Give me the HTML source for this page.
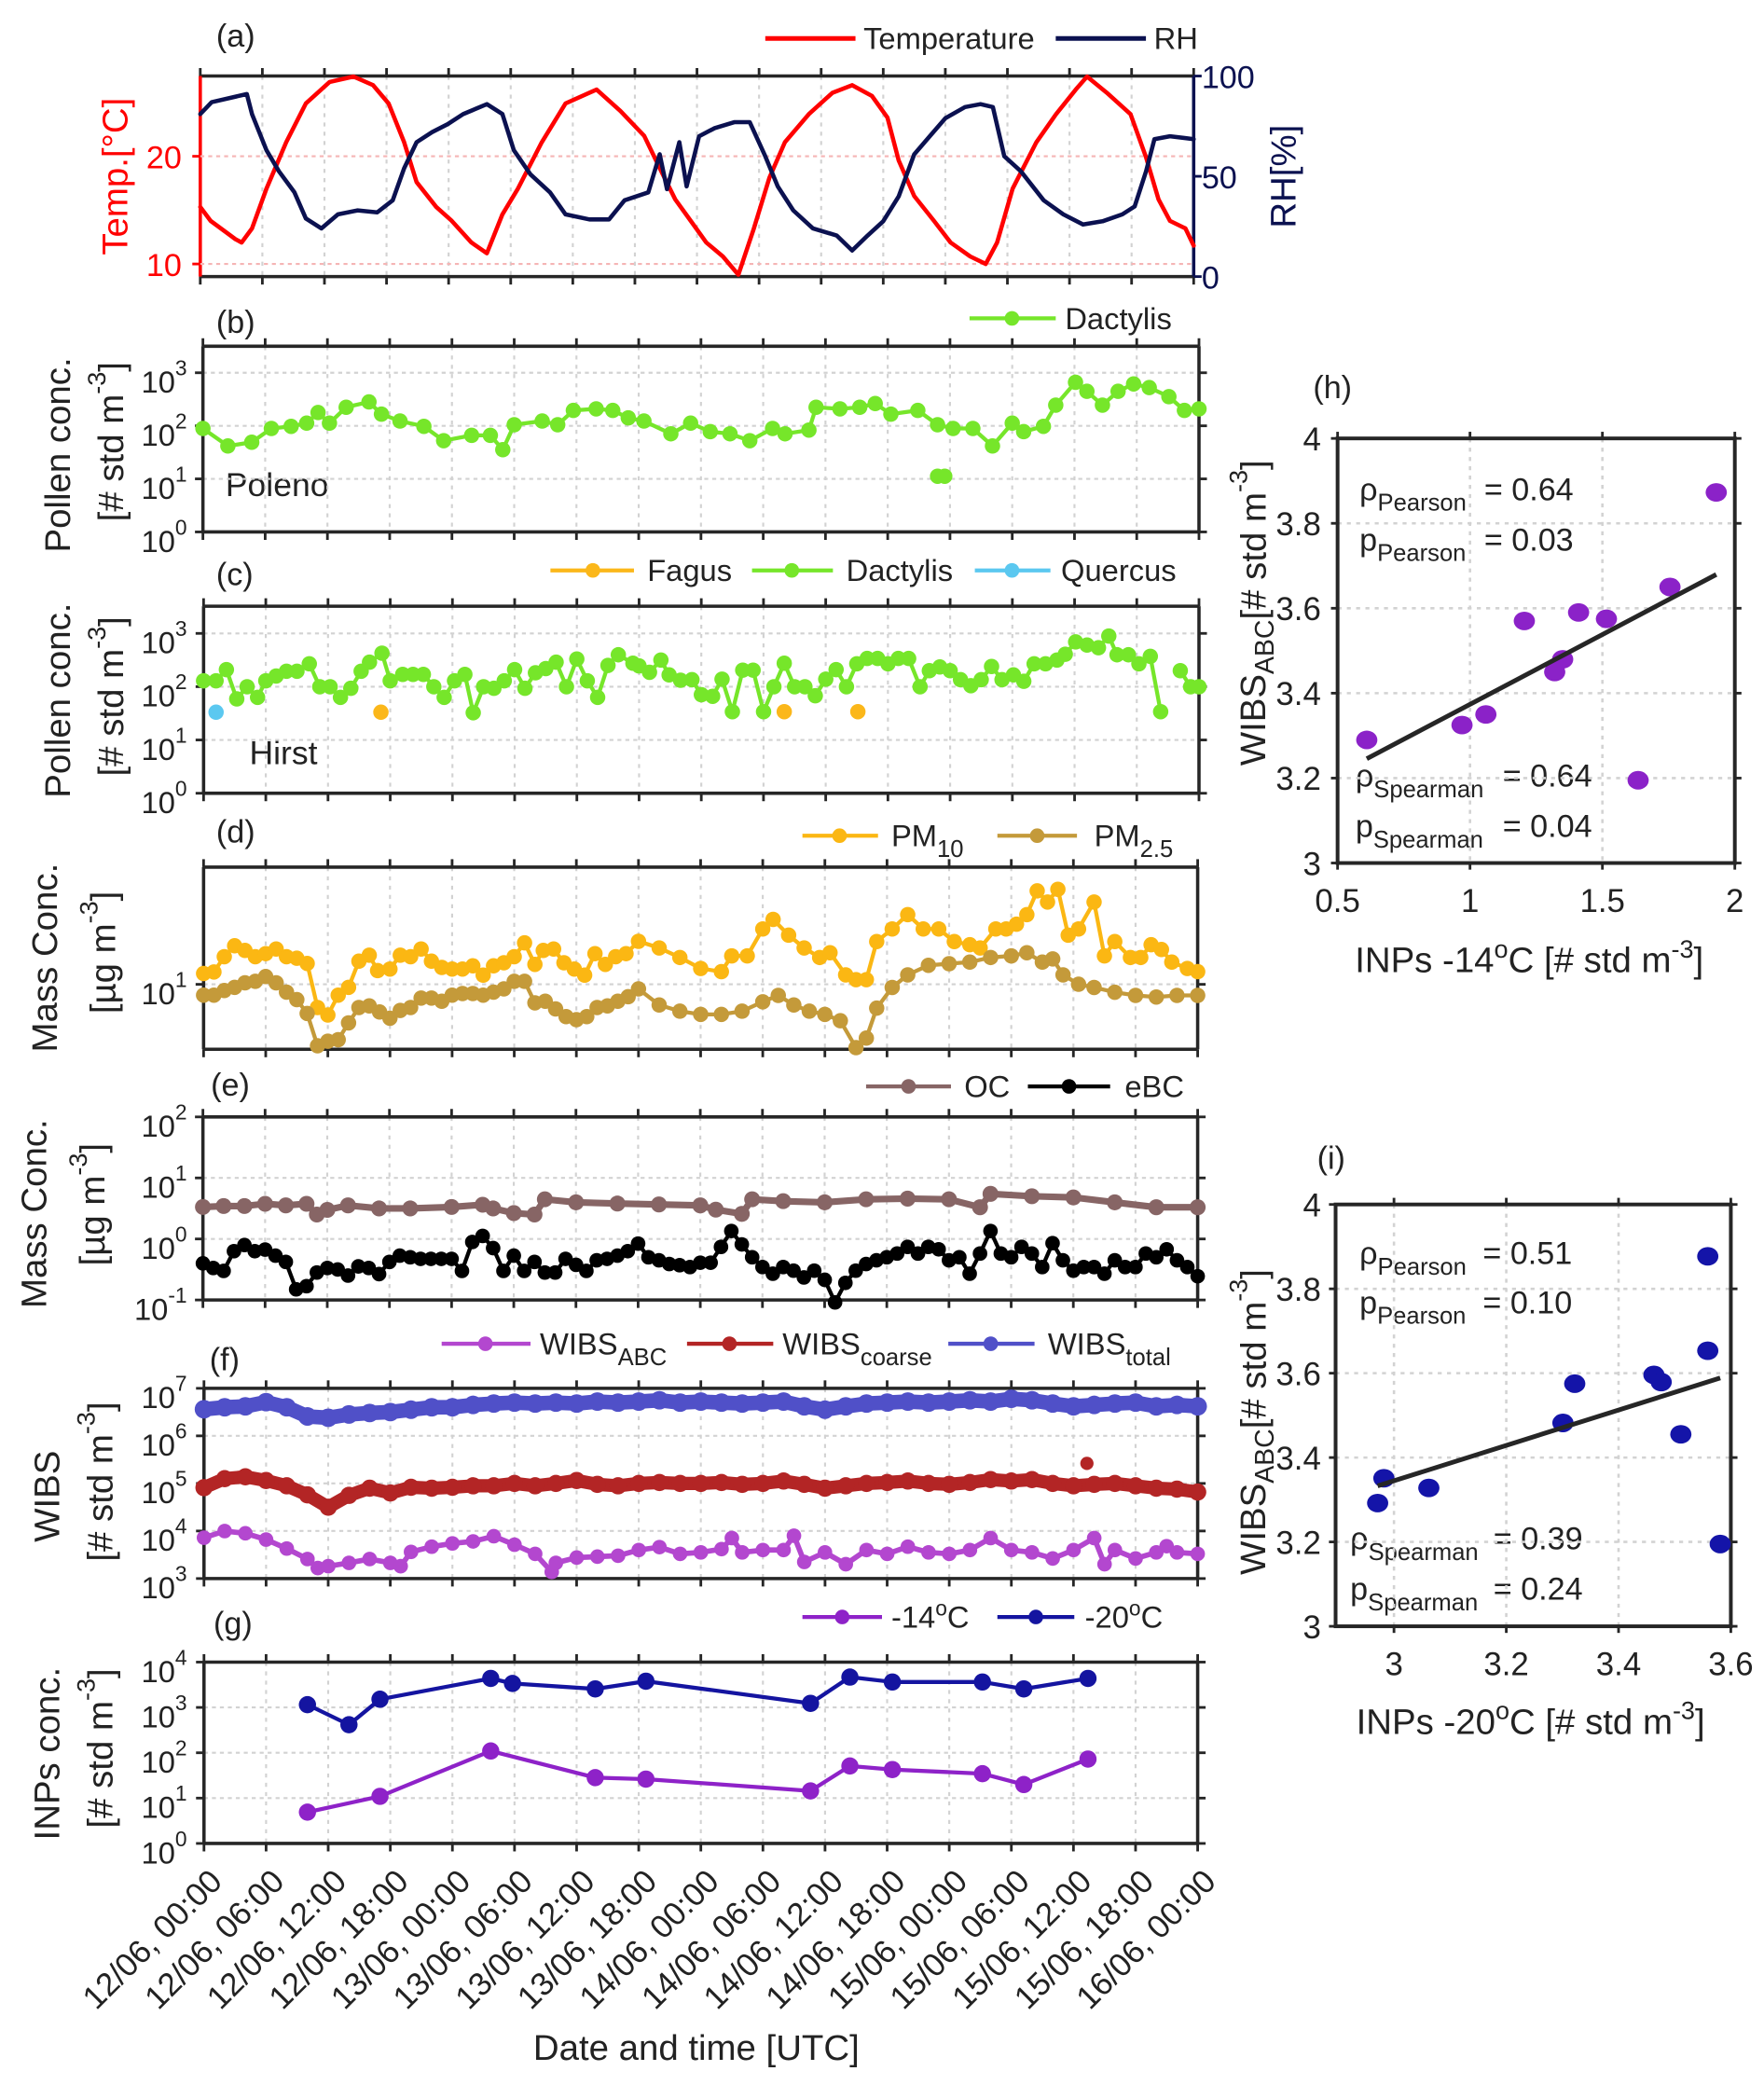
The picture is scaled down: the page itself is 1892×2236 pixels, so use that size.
<!DOCTYPE html>
<html><head><meta charset="utf-8"><title>Time series and scatter panels</title>
<style>html,body{margin:0;padding:0;background:#fff}svg{display:block}</style></head>
<body>
<svg id="chart" xmlns="http://www.w3.org/2000/svg" viewBox="0 0 1330 1571.8" width="1892" height="2236" font-family="'Liberation Sans', Arial, sans-serif" fill="#222">
<rect x="0" y="0" width="1330" height="1572" fill="#fff"/>
<g font-size="24">
<text x="163" y="35">(a)</text>
<text x="163" y="251">(b)</text>
<text x="163" y="441">(c)</text>
<text x="163" y="635">(d)</text>
<text x="159" y="826">(e)</text>
<text x="158" y="1033">(f)</text>
<text x="161" y="1232">(g)</text>
<text x="990" y="300">(h)</text>
<text x="993" y="881">(i)</text>
</g>
<g font-size="23">
<line x1="577" y1="29" x2="645" y2="29" stroke="#ff0000" stroke-width="3.5"/>
<text x="651" y="37">Temperature</text>
<line x1="796" y1="29" x2="864" y2="29" stroke="#0b1150" stroke-width="3.5"/>
<text x="870" y="37">RH</text>

<line x1="731" y1="240" x2="796" y2="240" stroke="#76e62a" stroke-width="3"/>
<circle cx="763" cy="240" r="5.5" fill="#76e62a"/>
<text x="803" y="248">Dactylis</text>

<line x1="415" y1="430" x2="478" y2="430" stroke="#fbb71a" stroke-width="3"/>
<circle cx="447" cy="430" r="5.5" fill="#fbb71a"/>
<text x="488" y="438">Fagus</text>
<line x1="567" y1="430" x2="628" y2="430" stroke="#76e62a" stroke-width="3"/>
<circle cx="597" cy="430" r="5.5" fill="#76e62a"/>
<text x="638" y="438">Dactylis</text>
<line x1="735" y1="430" x2="792" y2="430" stroke="#5bc8f0" stroke-width="3"/>
<circle cx="763" cy="430" r="5.5" fill="#5bc8f0"/>
<text x="800" y="438">Quercus</text>

<line x1="605" y1="630" x2="662" y2="630" stroke="#fbb713" stroke-width="3"/>
<circle cx="633" cy="630" r="5.5" fill="#fbb713"/>
<text x="672" y="638">PM<tspan dy="8" font-size="18">10</tspan></text>
<line x1="752" y1="630" x2="812" y2="630" stroke="#c49a3a" stroke-width="3"/>
<circle cx="782" cy="630" r="5.5" fill="#c49a3a"/>
<text x="825" y="638">PM<tspan dy="8" font-size="18">2.5</tspan></text>

<line x1="653" y1="819" x2="717" y2="819" stroke="#876565" stroke-width="3"/>
<circle cx="685" cy="819" r="5.5" fill="#876565"/>
<text x="727" y="827">OC</text>
<line x1="775" y1="819" x2="837" y2="819" stroke="#000" stroke-width="3"/>
<circle cx="806" cy="819" r="5.5" fill="#000"/>
<text x="848" y="827">eBC</text>

<line x1="333" y1="1013" x2="400" y2="1013" stroke="#b347cf" stroke-width="3"/>
<circle cx="366" cy="1013" r="5.5" fill="#b347cf"/>
<text x="407" y="1021">WIBS<tspan dy="8" font-size="18">ABC</tspan></text>
<line x1="518" y1="1013" x2="583" y2="1013" stroke="#b32525" stroke-width="3"/>
<circle cx="550" cy="1013" r="5.5" fill="#b32525"/>
<text x="590" y="1021">WIBS<tspan dy="8" font-size="18">coarse</tspan></text>
<line x1="715" y1="1013" x2="780" y2="1013" stroke="#5050c8" stroke-width="3"/>
<circle cx="747" cy="1013" r="5.5" fill="#5050c8"/>
<text x="790" y="1021">WIBS<tspan dy="8" font-size="18">total</tspan></text>

<line x1="605" y1="1219" x2="665" y2="1219" stroke="#8e22c8" stroke-width="3"/>
<circle cx="635" cy="1219" r="5.5" fill="#8e22c8"/>
<text x="672" y="1227">-14<tspan dy="-9" font-size="16">o</tspan><tspan dy="9">C</tspan></text>
<line x1="752" y1="1219" x2="810" y2="1219" stroke="#1414a0" stroke-width="3"/>
<circle cx="781" cy="1219" r="5.5" fill="#1414a0"/>
<text x="818" y="1227">-20<tspan dy="-9" font-size="16">o</tspan><tspan dy="9">C</tspan></text>
</g>

<g font-size="27" text-anchor="middle" dominant-baseline="central">
<text transform="translate(87,133) rotate(-90)" fill="#ff0000">Temp.[°C]</text>
<text transform="translate(968,133) rotate(-90)" fill="#0b1150">RH[%]</text>
<text transform="translate(44,343) rotate(-90)">Pollen conc.</text>
<text transform="translate(84,333) rotate(-90)">[# std m<tspan dy="-11" font-size="19">-3</tspan><tspan dy="11">]</tspan></text>
<text transform="translate(44,528) rotate(-90)">Pollen conc.</text>
<text transform="translate(84,525) rotate(-90)">[# std m<tspan dy="-11" font-size="19">-3</tspan><tspan dy="11">]</tspan></text>
<text transform="translate(34,722) rotate(-90)">Mass Conc.</text>
<text transform="translate(78,718) rotate(-90)">[µg m<tspan dy="-11" font-size="19">-3</tspan><tspan dy="11">]</tspan></text>
<text transform="translate(26,915) rotate(-90)">Mass Conc.</text>
<text transform="translate(70,908) rotate(-90)">[µg m<tspan dy="-11" font-size="19">-3</tspan><tspan dy="11">]</tspan></text>
<text transform="translate(36,1128) rotate(-90)">WIBS</text>
<text transform="translate(76,1117) rotate(-90)">[# std m<tspan dy="-11" font-size="19">-3</tspan><tspan dy="11">]</tspan></text>
<text transform="translate(36,1322) rotate(-90)">INPs conc.</text>
<text transform="translate(76,1318) rotate(-90)">[# std m<tspan dy="-11" font-size="19">-3</tspan><tspan dy="11">]</tspan></text>
<text transform="translate(945,462) rotate(-90)">WIBS<tspan dy="9" font-size="20">ABC</tspan><tspan dy="-9">[# std m</tspan><tspan dy="-11" font-size="19">-3</tspan><tspan dy="11">]</tspan></text>
<text transform="translate(945,1072) rotate(-90)">WIBS<tspan dy="9" font-size="20">ABC</tspan><tspan dy="-9">[# std m</tspan><tspan dy="-11" font-size="19">-3</tspan><tspan dy="11">]</tspan></text>
</g>
<g font-size="27" text-anchor="middle">
<text x="525" y="1553">Date and time [UTC]</text>
<text x="1153" y="733">INPs -14<tspan dy="-11" font-size="19">o</tspan><tspan dy="11">C [# std m</tspan><tspan dy="-11" font-size="19">-3</tspan><tspan dy="11">]</tspan></text>
<text x="1154" y="1307">INPs -20<tspan dy="-11" font-size="19">o</tspan><tspan dy="11">C [# std m</tspan><tspan dy="-11" font-size="19">-3</tspan><tspan dy="11">]</tspan></text>
</g>
<g font-size="24">
<text x="170" y="374" font-size="25">Poleno</text>
<text x="188" y="576" font-size="25">Hirst</text>
<text x="1025" y="377">ρ<tspan dy="8" font-size="18">Pearson</tspan></text>
<text x="1119" y="377">= 0.64</text>
<text x="1025" y="415">p<tspan dy="8" font-size="18">Pearson</tspan></text>
<text x="1119" y="415">= 0.03</text>
<text x="1022" y="593">ρ<tspan dy="8" font-size="18">Spearman</tspan></text>
<text x="1133" y="593">= 0.64</text>
<text x="1022" y="631">p<tspan dy="8" font-size="18">Spearman</tspan></text>
<text x="1133" y="631">= 0.04</text>
<text x="1025" y="953">ρ<tspan dy="8" font-size="18">Pearson</tspan></text>
<text x="1118" y="953">= 0.51</text>
<text x="1025" y="990">p<tspan dy="8" font-size="18">Pearson</tspan></text>
<text x="1118" y="990">= 0.10</text>
<text x="1018" y="1168">ρ<tspan dy="8" font-size="18">Spearman</tspan></text>
<text x="1126" y="1168">= 0.39</text>
<text x="1018" y="1206">p<tspan dy="8" font-size="18">Spearman</tspan></text>
<text x="1126" y="1206">= 0.24</text>
</g>
<g id="plots"></g>
</svg>
<script>
const timeTickHours = [0,6,12,18,24,30,36,42,48,54,60,66,72,78,84,90,96];
const timeTickLabels = ['12/06, 00:00','12/06, 06:00','12/06, 12:00','12/06, 18:00','13/06, 00:00','13/06, 06:00','13/06, 12:00','13/06, 18:00','14/06, 00:00','14/06, 06:00','14/06, 12:00','14/06, 18:00','15/06, 00:00','15/06, 06:00','15/06, 12:00','15/06, 18:00','16/06, 00:00'];

const tempHours = [0,1,3.4,4,5,6.4,8.3,10.2,12.5,14.8,16.7,18.2,19.7,20.9,22.8,24.3,26.2,27.7,29.2,30.7,33,35.3,38.3,40.6,42.9,44.4,45.9,47.4,48.9,50.5,52,53.5,55,56.5,58.8,61.1,63,64.9,66.4,67.5,69,70.9,72.5,74.4,75.9,77,78.5,80.8,82.7,84.6,85.7,87.6,89.9,91.4,92.6,93.7,95.2,96];
const tempValues = [15.3,14,12.3,12,13.3,17,21.3,24.9,26.9,27.4,26.6,24.9,21.3,17.6,15.3,14,12,11,14.6,17,21.3,24.9,26.2,24.2,21.9,18.9,16,14,12,10.7,9,13.3,18,21.3,23.9,25.9,26.6,25.6,23.6,19.6,16.3,14,12,10.7,10,12,17,21.3,23.9,26.2,27.4,25.9,23.9,19.9,16,14,13.3,11.7];
const rhHours = [0,1.1,4.5,5,6.4,7.6,9.1,10.2,11.7,13.3,15.2,17.1,18.6,19.7,20.9,22.4,23.9,25.4,27.7,29.2,30.3,31.9,33.8,35.3,37.6,39.5,41,43.3,44.4,45.1,46.3,47,48.2,49.7,51.6,53.1,54.6,55.8,57.3,59.2,61.5,63,64.5,66,67.5,69,70.5,72,73.9,75.4,76.6,77.7,79.3,81.5,83.4,85.3,87.2,89.1,90.3,91.4,92.2,93.7,96];
const rhValues = [81,87,91,81,63,52.5,42,29,24,31,33,32,38,54,67,72,76,81,86,81,63,51,42,31,28.5,28.5,38,42,61,43.6,67,45,70,74,77,77,60,45,33,24,20.5,13,20.5,27.6,40,61,70,79,84.5,86,84.5,60,52.5,38,31,26,27.6,31,35,52.5,68.5,70,68.5];

const polenoHours = [0,2.4,4.7,6.6,8.5,10,11.1,12.2,13.8,16,17.2,19,21.3,23.2,25.9,27.7,28.9,30,32.7,34.2,35.7,37.9,39.5,41,42.5,45.1,47,48.9,50.8,52.7,54.9,56.1,58.4,59.1,61.4,63.3,64.8,66.3,68.9,70.8,72.3,74.2,76.1,78,79.1,81,82.2,84.1,85.2,86.7,88.2,89.7,91.2,93.1,94.6,96];
const polenoDactylisLog = [1.95,1.62,1.69,1.95,1.99,2.05,2.25,2.05,2.35,2.45,2.22,2.09,1.99,1.72,1.82,1.82,1.55,2.02,2.09,2.02,2.29,2.32,2.29,2.15,2.09,1.85,2.05,1.89,1.85,1.72,1.95,1.85,1.92,2.35,2.32,2.35,2.42,2.22,2.29,2.02,1.95,1.95,1.62,2.05,1.89,1.99,2.39,2.82,2.65,2.39,2.65,2.79,2.72,2.55,2.29,2.32];
const polenoIsolatedHours = [70.8,71.5];
const polenoIsolatedLog = [1.05,1.05];

const hirstHours = [0,1.2,2.2,3.2,4.2,5.2,6,7,8,9,10.2,11.2,12.2,13.2,14.2,15.2,16,17.2,18,19.2,20.2,21.2,22.2,23.2,24.2,25.2,26,27,28,29,30,31,32,33,34,35,36,37,38,39,40,41.4,42,43,44.1,44.9,46,47.1,48,49.1,50,51,52,53,54,55,56,57,58,59,60,61,62,63,64,65,66,67,68,69.1,70,71,72,73,74,75,76,77,78.1,79.1,80.1,81.2,82.3,83.1,84.1,85.2,86.3,87.3,88.1,89.2,90.2,91.3,92.3,93.2,94.2,95.2,96];
const hirstDactylisLog = [2.11,2.11,2.32,1.77,2.0,1.8,2.11,2.2,2.29,2.29,2.43,2.0,2.0,1.8,1.97,2.29,2.46,2.63,2.11,2.23,2.23,2.23,2.0,1.8,2.11,2.23,1.51,2.0,1.97,2.11,2.32,1.97,2.26,2.34,2.46,2.0,2.52,2.11,1.8,2.4,2.6,2.44,2.39,2.27,2.5,2.22,2.12,2.13,1.85,1.82,2.14,1.53,2.31,2.31,1.53,2.0,2.44,2.0,2.0,1.83,2.14,2.32,2.0,2.43,2.53,2.53,2.43,2.53,2.53,2.0,2.3,2.37,2.3,2.13,2.02,2.13,2.38,2.13,2.22,2.1,2.43,2.43,2.5,2.61,2.84,2.78,2.73,2.95,2.6,2.6,2.43,2.57,1.53,null,2.3,2.0,2.0];
const fagusHours = [17.1,56,63.1];
const fagusLog = [1.52,1.53,1.53];
const quercusHours = [1.2];
const quercusLog = [1.52];

const pm10Hours = [0,1,2,3,4,5,6,7,8,9,10,11,12,13,14,15,16,16.8,18,19,20,21,22,23,24,25,26,27,28,29,30,31,32,32.8,33.8,34.8,35.8,36.8,37.8,38.8,39.8,40.8,42,44,46,48,50,51,52.5,54,55,56.5,58,59.5,60.5,62,63,64,65,66.5,68,69.5,71,72.5,74,75,76.5,77.5,78.5,79.5,80.5,81.5,82.5,83.5,84.5,86,87,88,89.5,90.5,91.5,92.5,93.5,95,96];
const pm10Log = [1.068,1.078,1.175,1.243,1.214,1.175,1.194,1.223,1.175,1.165,1.132,0.854,0.806,0.932,0.981,1.146,1.184,1.087,1.097,1.184,1.175,1.223,1.146,1.107,1.097,1.097,1.117,1.058,1.117,1.136,1.175,1.262,1.126,1.214,1.223,1.136,1.097,1.058,1.194,1.126,1.175,1.194,1.272,1.23,1.17,1.10,1.08,1.18,1.18,1.35,1.41,1.31,1.23,1.17,1.2,1.06,1.03,1.03,1.27,1.35,1.44,1.35,1.35,1.27,1.25,1.23,1.35,1.35,1.38,1.44,1.59,1.52,1.60,1.31,1.35,1.52,1.18,1.27,1.17,1.17,1.25,1.22,1.14,1.10,1.08];
const pm25Hours = [0,1,2,3,4,5,6,7,8,9,10,11,12,13,14,15,16,17,18,19,20,21,22,23,24,25,26,27,28,29,30,31,32,33,34,35,36,37,38,39,40,41,42,44,46,48,50,52,54,55.5,57,58.5,60,61.5,63,64,65,66.5,68,70,72,74,76,78,79.5,81,82,83,84.5,86,88,90,92,94,96];
const pm25Log = [0.932,0.932,0.961,0.981,1.01,1.019,1.049,1.01,0.951,0.903,0.816,0.612,0.641,0.65,0.757,0.854,0.864,0.825,0.786,0.835,0.854,0.913,0.913,0.893,0.932,0.942,0.942,0.932,0.951,0.971,1.019,1.019,0.883,0.893,0.845,0.796,0.777,0.796,0.854,0.864,0.893,0.922,0.971,0.87,0.83,0.81,0.81,0.83,0.89,0.93,0.87,0.83,0.81,0.77,0.6,0.66,0.85,0.98,1.06,1.12,1.13,1.14,1.17,1.18,1.20,1.14,1.16,1.06,1.0,0.98,0.95,0.93,0.92,0.93,0.93];

const ocHours = [0,2,4,6,8,10,11,12,14,17,20,24,27,28,30,32,33,36,40,44,48,49.5,52,53,56,60,64,68,72,75,76,80,84,88,92,96];
const ocLog = [0.525,0.54,0.54,0.575,0.55,0.575,0.4,0.475,0.55,0.5,0.5,0.525,0.56,0.5,0.425,0.4,0.65,0.6,0.58,0.565,0.55,0.48,0.41,0.65,0.62,0.6,0.65,0.66,0.65,0.52,0.74,0.7,0.68,0.6,0.52,0.52];
const ebcLog = [-0.4,-0.475,-0.525,-0.2,-0.1,-0.2,-0.175,-0.275,-0.375,-0.825,-0.775,-0.55,-0.475,-0.5,-0.6,-0.45,-0.475,-0.575,-0.375,-0.275,-0.3,-0.325,-0.325,-0.325,-0.325,-0.525,-0.05,0.05,-0.15,-0.525,-0.275,-0.525,-0.375,-0.55,-0.55,-0.325,-0.425,-0.525,-0.35,-0.325,-0.275,-0.2,-0.075,-0.30,-0.35,-0.41,-0.43,-0.46,-0.39,-0.39,-0.13,0.13,-0.09,-0.30,-0.46,-0.57,-0.46,-0.52,-0.63,-0.52,-0.67,-1.04,-0.72,-0.52,-0.41,-0.35,-0.30,-0.24,-0.13,-0.24,-0.13,-0.17,-0.35,-0.30,-0.57,-0.24,0.13,-0.24,-0.30,-0.13,-0.24,-0.46,-0.07,-0.35,-0.52,-0.46,-0.46,-0.57,-0.35,-0.46,-0.46,-0.24,-0.30,-0.17,-0.35,-0.46,-0.61];
const ebcHours = ebcLog.map((v, i) => i);

const wibsHours = [0,2,4,6,8,10,12,14,16,18,20,22,24,26,28,30,32,34,36,38,40,42,44,46,48,50,52,54,56,58,60,62,64,66,68,70,72,74,76,78,80,82,84,86,88,90,92,94,96];
const wibsTotalLog = [6.56,6.6,6.62,6.71,6.6,6.41,6.38,6.45,6.48,6.5,6.55,6.6,6.6,6.65,6.68,6.7,6.68,6.7,6.68,6.72,6.7,6.72,6.75,6.7,6.72,6.7,6.68,6.7,6.72,6.62,6.55,6.62,6.68,6.7,6.72,6.7,6.72,6.75,6.72,6.78,6.75,6.68,6.62,6.65,6.68,6.7,6.62,6.65,6.62];
const wibsCoarseLog = [4.91,5.1,5.14,5.06,4.95,4.76,4.5,4.75,4.9,4.8,4.92,4.9,4.92,4.95,4.95,5.0,4.95,5.0,5.06,4.98,4.95,5.0,5.02,5.0,5.0,5.02,4.98,5.0,5.05,4.98,4.9,4.95,5.0,5.02,5.05,5.0,4.98,5.02,5.08,5.05,5.08,5.0,4.95,4.98,5.0,4.95,4.9,4.88,4.82];
const coarseSpikeHours = [85.3];
const coarseSpikeLog = [5.42];
const wibsAbcHours = [0,2,4,6,8,10,11,12,14,16,18,19,20,22,24,26,28,30,32,33.6,34,36,38,40,42,44,46,48,50,51,52,54,56,57,58,60,62,64,66,68,70,72,74,76,78,80,82,84,86,87,88,90,92,93,94,96];
const wibsAbcLog = [3.86,4.0,3.95,3.82,3.63,3.41,3.22,3.26,3.33,3.41,3.33,3.26,3.56,3.67,3.74,3.78,3.89,3.71,3.52,3.14,3.33,3.44,3.46,3.48,3.6,3.66,3.52,3.55,3.62,3.85,3.55,3.6,3.6,3.9,3.35,3.55,3.3,3.6,3.52,3.67,3.55,3.52,3.6,3.85,3.6,3.55,3.42,3.6,3.85,3.3,3.6,3.42,3.55,3.68,3.55,3.52];

const inp20Hours = [10,14,17,27.7,29.8,37.8,42.7,58.6,62.4,66.5,75.2,79.2,85.4];
const inp20Log = [3.06,2.62,3.18,3.64,3.53,3.41,3.58,3.09,3.67,3.56,3.56,3.41,3.64];
const inp14Hours = [10,17,27.7,37.8,42.7,58.6,62.4,66.5,75.2,79.2,85.4];
const inp14Log = [0.69,1.04,2.04,1.45,1.42,1.16,1.71,1.63,1.54,1.3,1.86];

const scatterH_x = [0.61,0.97,1.06,1.205,1.32,1.35,1.41,1.515,1.635,1.755,1.93];
const scatterH_y = [3.29,3.325,3.35,3.57,3.45,3.48,3.59,3.575,3.195,3.65,3.873];
const scatterI_x = [2.971,2.982,3.062,3.301,3.322,3.463,3.476,3.511,3.559,3.559,3.581];
const scatterI_y = [3.292,3.351,3.328,3.482,3.575,3.596,3.579,3.455,3.877,3.653,3.195];
const hXTicks = [0.5,1,1.5,2];
const hYTicks = [3,3.2,3.4,3.6,3.8,4];
const iXTicks = [3,3.2,3.4,3.6];
const iYTicks = [3,3.2,3.4,3.6,3.8,4];
const tempTicks = [10,20];
const rhTicks = [0,50,100];

const NS = 'http://www.w3.org/2000/svg';
const root = document.getElementById('plots');
function mk(tag, name, attrs, parent) {
  const e = document.createElementNS(NS, tag);
  
  
  for (const k in attrs) e.setAttribute(k, attrs[k]);
  (parent || root).appendChild(e);
  return e;
}
const AX = '#262626', GRID = '#d2d2d2';
const Pa = {x0:151, x1:900, top:57.3, bot:208.5, lo:8.83, hi:27.45};
const PaR = {x0:151, x1:900, top:57.3, bot:208.5, lo:0, hi:100};
const Pb = {x0:153, x1:904, top:261, bot:401, lo:0, hi:3.5};
const Pc = {x0:153.5, x1:904, top:457, bot:598, lo:0, hi:3.51};
const Pd = {x0:153.5, x1:903, top:653.7, bot:791, lo:0.59, hi:1.74};
const Pe = {x0:153, x1:903, top:842, bot:980, lo:-1, hi:2};
const Pf = {x0:153.8, x1:903, top:1046.6, bot:1190, lo:3, hi:7};
const Pg = {x0:153.8, x1:903, top:1253, bot:1389.7, lo:0, hi:4};
const Ph = {x0:1008.5, x1:1308, top:330.5, bot:650.6, lo:3, hi:4, xlo:0.5, xhi:2};
const Pi = {x0:1007, x1:1305, top:908, bot:1226, lo:3, hi:4, xlo:2.896, xhi:3.6};
function xT(P, h) { return P.x0 + h / 96 * (P.x1 - P.x0); }
function yV(P, v) { return P.bot - (v - P.lo) / (P.hi - P.lo) * (P.bot - P.top); }
function xV(P, v) { return P.x0 + (v - P.xlo) / (P.xhi - P.xlo) * (P.x1 - P.x0); }

function timeFrame(P, key, gridDecades, tickDecades, opts) {
  const g = mk('g', 'panel-' + key, {});
  opts = opts || {};
  timeTickHours.forEach(h => {
    if (h === 0 || h === 96) return;
    const x = xT(P, h);
    mk('line', 'x-grid-line', {x1:x, y1:P.top, x2:x, y2:P.bot, stroke:GRID, 'stroke-width':1.5, 'stroke-dasharray':'3 4'}, g);
  });
  gridDecades.forEach(v => {
    const y = yV(P, v);
    mk('line', 'y-grid-line', {x1:P.x0, y1:y, x2:P.x1, y2:y, stroke:opts.gridColor || GRID, 'stroke-width':1.5, 'stroke-dasharray':'3 3'}, g);
  });
  mk('line', 'axis-top', {x1:P.x0, y1:P.top, x2:P.x1, y2:P.top, stroke:AX, 'stroke-width':2.5}, g);
  mk('line', 'x-axis', {x1:P.x0, y1:P.bot, x2:P.x1, y2:P.bot, stroke:AX, 'stroke-width':2.5}, g);
  mk('line', 'y-axis-left', {x1:P.x0, y1:P.top, x2:P.x0, y2:P.bot, stroke:opts.leftColor || AX, 'stroke-width':2.5}, g);
  mk('line', 'y-axis-right', {x1:P.x1, y1:P.top, x2:P.x1, y2:P.bot, stroke:opts.rightColor || AX, 'stroke-width':2.5}, g);
  timeTickHours.forEach(h => {
    const x = xT(P, h);
    mk('line', 'x-tick-top', {x1:x, y1:P.top, x2:x, y2:P.top - 6, stroke:AX, 'stroke-width':2}, g);
    mk('line', 'x-tick-bottom', {x1:x, y1:P.bot, x2:x, y2:P.bot + 6, stroke:AX, 'stroke-width':2}, g);
  });
  if (tickDecades) {
    tickDecades.forEach(v => {
      const y = yV(P, v);
      mk('line', 'y-tick-left', {x1:P.x0, y1:y, x2:P.x0 - 6, y2:y, stroke:AX, 'stroke-width':2}, g);
      mk('line', 'y-tick-right', {x1:P.x1, y1:y, x2:P.x1 + 6, y2:y, stroke:AX, 'stroke-width':2}, g);
      const t = mk('text', 'y-tick-label', {x:141, y:y + 15, 'text-anchor':'end', 'font-size':23}, g);
      t.textContent = '10';
      const s = mk('tspan', 'y-tick-exponent', {dy:-13, 'font-size':16}, t);
      s.textContent = String(v);
    });
  }
  return g;
}
function series(P, name, hs, vs, color, lw, r) {
  const g = mk('g', name, {});
  let d = '', pen = false;
  for (let i = 0; i < hs.length; i++) {
    if (vs[i] === null) { pen = false; continue; }
    d += (pen ? 'L' : 'M') + xT(P, hs[i]).toFixed(1) + ' ' + yV(P, vs[i]).toFixed(1) + ' ';
    pen = true;
  }
  if (lw > 0 && d) mk('path', name + '-line', {d:d, fill:'none', stroke:color, 'stroke-width':lw, 'stroke-linejoin':'round', 'stroke-linecap':'round'}, g);
  if (r > 0) {
    for (let i = 0; i < hs.length; i++) {
      if (vs[i] === null) continue;
      mk('circle', name + '-point', {cx:xT(P, hs[i]).toFixed(1), cy:yV(P, vs[i]).toFixed(1), r:r, fill:color}, g);
    }
  }
  return g;
}

const ga = timeFrame(Pa, 'a', [], null, {leftColor:'#ff0000', rightColor:'#0b1150'});
tempTicks.forEach(v => {
  const y = yV(Pa, v);
  mk('line', 'temp-grid-line', {x1:Pa.x0, y1:y, x2:Pa.x1, y2:y, stroke:'#f5b5b5', 'stroke-width':1.5, 'stroke-dasharray':'3 3'}, ga);
  mk('line', 'temp-tick', {x1:Pa.x0, y1:y, x2:Pa.x0 - 6, y2:y, stroke:'#ff0000', 'stroke-width':2}, ga);
  const t = mk('text', 'temp-tick-label', {x:137, y:y + 9, 'text-anchor':'end', 'font-size':24, fill:'#ff0000'}, ga);
  t.textContent = String(v);
});
rhTicks.forEach(v => {
  const y = yV(PaR, v);
  mk('line', 'rh-tick', {x1:PaR.x1, y1:y, x2:PaR.x1 + 6, y2:y, stroke:'#0b1150', 'stroke-width':2}, ga);
  const t = mk('text', 'rh-tick-label', {x:906, y:y + 9, 'font-size':24, fill:'#0b1150'}, ga);
  t.textContent = String(v);
});
series(Pa, 'temperature-series', tempHours, tempValues, '#ff0000', 3.2, 0);
series(PaR, 'rh-series', rhHours, rhValues, '#0b1150', 3.2, 0);

timeFrame(Pb, 'b', [1,2,3], [0,1,2,3]);
series(Pb, 'dactylis-poleno-series', polenoHours, polenoDactylisLog, '#76e62a', 3, 5.8);
series(Pb, 'dactylis-poleno-isolated', polenoIsolatedHours, polenoIsolatedLog, '#76e62a', 3, 5.8);

timeFrame(Pc, 'c', [1,2,3], [0,1,2,3]);
series(Pc, 'dactylis-hirst-series', hirstHours, hirstDactylisLog, '#76e62a', 3, 5.8);
series(Pc, 'fagus-series', fagusHours, fagusLog, '#fbb71a', 0, 5.8);
series(Pc, 'quercus-series', quercusHours, quercusLog, '#5bc8f0', 0, 5.8);

timeFrame(Pd, 'd', [1], [1]);
series(Pd, 'pm10-series', pm10Hours, pm10Log, '#fbb713', 3, 5.8);
series(Pd, 'pm25-series', pm25Hours, pm25Log, '#c49a3a', 3, 5.8);

timeFrame(Pe, 'e', [0,1], [-1,0,1,2]);
series(Pe, 'oc-series', ocHours, ocLog, '#876565', 5, 6);
series(Pe, 'ebc-series', ebcHours, ebcLog, '#000000', 3, 5.5);

timeFrame(Pf, 'f', [4,5,6], [3,4,5,6,7]);
series(Pf, 'wibs-total-series', wibsHours, wibsTotalLog, '#5050c8', 11, 7);
series(Pf, 'wibs-coarse-series', wibsHours, wibsCoarseLog, '#b32525', 10, 6.5);
series(Pf, 'wibs-coarse-spike', coarseSpikeHours, coarseSpikeLog, '#b32525', 0, 5);
series(Pf, 'wibs-abc-series', wibsAbcHours, wibsAbcLog, '#b347cf', 4, 5.5);

timeFrame(Pg, 'g', [1,2,3], [0,1,2,3,4]);
series(Pg, 'inp-20-series', inp20Hours, inp20Log, '#1414a0', 3, 6.5);
series(Pg, 'inp-14-series', inp14Hours, inp14Log, '#8e22c8', 3, 6.5);

const gl = mk('g', 'time-tick-labels', {});
timeTickHours.forEach((h, i) => {
  const x = xT(Pg, h) + 15, y = Pg.bot + 30;
  const t = mk('text', 'time-tick-label', {transform:'translate(' + x.toFixed(1) + ',' + y.toFixed(1) + ') rotate(-45)', 'text-anchor':'end', 'font-size':24.5}, gl);
  t.textContent = timeTickLabels[i];
});

function scatterPanel(P, key, xs, ys, xt, yt, color) {
  const g = mk('g', 'panel-' + key, {});
  xt.forEach(v => {
    if (v === P.xlo || v === P.xhi) return;
    const x = xV(P, v);
    mk('line', 'x-grid-line', {x1:x, y1:P.top, x2:x, y2:P.bot, stroke:GRID, 'stroke-width':1.8, 'stroke-dasharray':'3 4'}, g);
  });
  yt.forEach(v => {
    if (v === P.lo || v === P.hi) return;
    const y = yV(P, v);
    mk('line', 'y-grid-line', {x1:P.x0, y1:y, x2:P.x1, y2:y, stroke:GRID, 'stroke-width':1.8, 'stroke-dasharray':'3 4'}, g);
  });
  mk('rect', 'plot-box', {x:P.x0, y:P.top, width:P.x1 - P.x0, height:P.bot - P.top, fill:'none', stroke:AX, 'stroke-width':2.8}, g);
  xt.forEach(v => {
    const x = xV(P, v);
    mk('line', 'x-tick', {x1:x, y1:P.bot, x2:x, y2:P.bot + 5, stroke:AX, 'stroke-width':2}, g);
    mk('line', 'x-tick-top', {x1:x, y1:P.top, x2:x, y2:P.top - 5, stroke:AX, 'stroke-width':2}, g);
    const t = mk('text', 'x-tick-label', {x:x, y:P.bot + 37, 'text-anchor':'middle', 'font-size':24.5}, g);
    t.textContent = String(v);
  });
  yt.forEach(v => {
    const y = yV(P, v);
    mk('line', 'y-tick', {x1:P.x0, y1:y, x2:P.x0 - 5, y2:y, stroke:AX, 'stroke-width':2}, g);
    mk('line', 'y-tick-right', {x1:P.x1, y1:y, x2:P.x1 + 5, y2:y, stroke:AX, 'stroke-width':2}, g);
    const t = mk('text', 'y-tick-label', {x:996, y:y + 9, 'text-anchor':'end', 'font-size':24.5}, g);
    t.textContent = String(v);
  });
  const n = xs.length;
  const mx = xs.reduce((a, b) => a + b, 0) / n, my = ys.reduce((a, b) => a + b, 0) / n;
  let sxy = 0, sxx = 0;
  for (let i = 0; i < n; i++) { sxy += (xs[i] - mx) * (ys[i] - my); sxx += (xs[i] - mx) * (xs[i] - mx); }
  const b = sxy / sxx, a = my - b * mx;
  const xmin = Math.min(...xs), xmax = Math.max(...xs);
  for (let i = 0; i < n; i++) {
    mk('ellipse', 'scatter-point', {cx:xV(P, xs[i]).toFixed(1), cy:yV(P, ys[i]).toFixed(1), rx:8, ry:7, fill:color}, g);
  }
  mk('line', 'fit-line', {x1:xV(P, xmin).toFixed(1), y1:yV(P, a + b * xmin).toFixed(1), x2:xV(P, xmax).toFixed(1), y2:yV(P, a + b * xmax).toFixed(1), stroke:AX, 'stroke-width':3.5}, g);
}
scatterPanel(Ph, 'h', scatterH_x, scatterH_y, hXTicks, hYTicks, '#8b22c8');
scatterPanel(Pi, 'i', scatterI_x, scatterI_y, iXTicks, iYTicks, '#1414a8');
</script>
</body></html>
